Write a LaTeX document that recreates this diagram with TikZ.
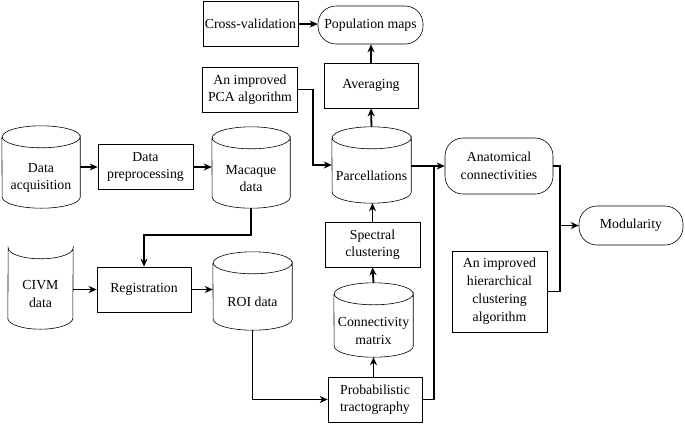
\documentclass[tikz,border=0pt]{standalone}
\usepackage{fontspec}
\setmainfont{Liberation Serif}
\newfontfamily\diagfont{Liberation Serif}
\usepackage{tikz}
\usetikzlibrary{arrows.meta}

\begin{document}
\begin{tikzpicture}[x=1pt, y=-1pt,
        font=\diagfont\fontsize{13.8}{17.5}\selectfont,
        >={Stealth[length=8pt, width=7pt, inset=2.5pt]},
        box/.style={draw, line width=0.6pt, align=center, inner sep=1pt, minimum width=95pt, minimum height=45pt},
        term/.style={box, rounded corners=18pt, minimum height=38pt},
        cyl/.style={align=center, inner sep=1pt, minimum width=79pt},
        link/.style={line width=1.8pt}]
        \useasboundingbox (0,0) rectangle (685,424);

        % boxes
        \node[box] (cv) at (250.5,24) {Cross-validation};
        \node[term, minimum width=105pt] (pop) at (370.5,25) {Population maps};
        \node[box] (pca) at (250,89.5) {An improved\\PCA algorithm};
        \node[box, minimum width=94pt] (avg) at (371,85.5) {Averaging};
        \node[box] (prep) at (145.5,167) {Data\\preprocessing};
        \node[box, minimum width=94pt] (reg) at (144,289.5) {Registration};
        \node[box] (spec) at (372.5,244.5) {Spectral\\clustering};
        \node[box, minimum width=94pt] (prob) at (375,399.5) {Probabilistic\\tractography};
        \node[box, minimum height=81pt, font=\diagfont\fontsize{13.8}{18}\selectfont] (hier) at (499.5,291.5) {An improved\\hierarchical\\clustering\\algorithm};
        \node[term, minimum width=108pt, minimum height=56pt] (anat) at (499,166) {Anatomical\\connectivities};
        \node[term, minimum width=104pt, minimum height=39pt] (mod) at (631,225.5) {Modularity};

        % data
        \node[cyl, minimum width=78pt, minimum height=60pt] (acq) at (41,178) {Data\\acquisition};
        \node[cyl, minimum width=78pt, minimum height=59pt] (mac) at (251,178.5) {Macaque\\data};
        \node[cyl, minimum width=65pt, minimum height=70pt] (civm) at (40.5,294) {CIVM\\data};
        \node[cyl, minimum height=56pt] (roi) at (252.5,302) {ROI data};
        \node[cyl, minimum height=54pt] (parc) at (371.5,176) {Parcellations};
        \node[cyl, minimum height=52pt] (conn) at (373.5,331) {Connectivity\\matrix};

        \foreach \n/\r in {acq/39, mac/39, roi/39.5, parc/39.5, conn/39.5}
            \draw[line width=0.6pt] ([yshift=11pt]\n.north east) arc[start angle=0, end angle=360, x radius=\r pt, y radius=11pt]
                -- ([yshift=11pt]\n.south east) arc[start angle=0, end angle=-180, x radius=\r pt, y radius=11pt]
                -- ([yshift=11pt]\n.north west);
        \draw[line width=0.6pt] ([yshift=11pt]civm.north east) arc[start angle=0, end angle=-180, x radius=32.5pt, y radius=11pt]
            -- ([yshift=11pt]civm.south west) arc[start angle=180, end angle=360, x radius=32.5pt, y radius=11pt] -- cycle;

        % connectors
        \draw[link, ->] (cv.east) -- (cv.east -| pop.west);
        \draw[link, ->] (avg.north) -- (avg.north |- pop.south);
        \draw[link, ->] ([yshift=22pt]parc.north) -- (avg.south);
        \draw[link, ->] (pca.east) -- ++(15,0) |- ([yshift=11pt]parc.west);
        \draw[link, ->] (spec.north) -- (spec.north |- parc.south);
        \draw[link, ->] ([yshift=22pt]conn.north) -- (spec.south);
        \draw[link, ->] (conn.south |- prob.north) -- (conn.south);
        \draw[link, ->] (anat.west -| parc.east) -- (anat.west);
        \draw[link] (prob.east) -| ([xshift=-11pt]anat.west);
        \draw[link] (anat.east) -- ++(7,0) |- (hier.east);
        \draw[link, ->] ([xshift=7pt]anat.east |- mod.west) -- (mod.west);
        \draw[link, ->] (prep.west -| acq.east) -- (prep.west);
        \draw[link, ->] (prep.east) -- (prep.east -| mac.west);
        \draw[link, ->] (mac.south) -- ++(0,27) -| (reg.north);
        \draw[link, ->] (reg.west -| civm.east) -- (reg.west);
        \draw[link, ->] (reg.east) -- (reg.east -| roi.west);
        \draw[link, ->] (roi.south) |- (prob.west);

    \end{tikzpicture}
\end{document}
